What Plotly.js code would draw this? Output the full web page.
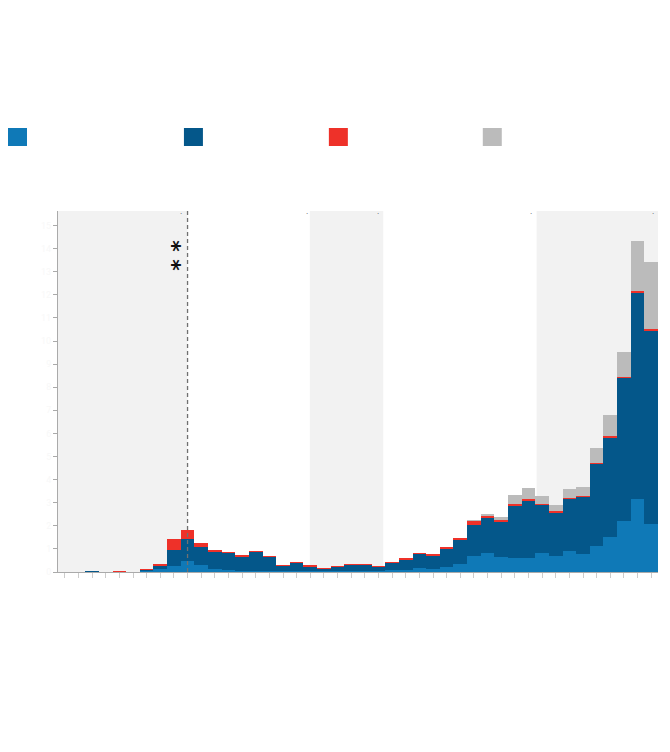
<!DOCTYPE html>
<html>
<head>
<meta charset="utf-8">
<script src="https://cdn.plot.ly/plotly-3.0.1.min.js"></script>
<style>html,body{margin:0;padding:0;background:#fff;}#chart{width:670px;height:752px;}</style>
</head>
<body>
<div id="chart"></div>
<script>
// ---- data (weekly bins, index 0..43) ----
const weekIndex = [0,1,2,3,4,5,6,7,8,9,10,11,12,13,14,15,16,17,18,19,20,21,22,23,24,25,26,27,28,29,30,31,32,33,34,35,36,37,38,39,40,41,42,43];
const seriesNames = ["Series 1", "Series 2", "Series 3", "Series 4"];
const lightBlue = [0,0,0.02,0,0,0,0.04,0.15,0.28,0.46,0.29,0.15,0.07,0.04,0.05,0.05,0.04,0.05,0.04,0.03,0.04,0.05,0.06,0.06,0.08,0.10,0.17,0.13,0.23,0.36,0.71,0.82,0.65,0.62,0.62,0.82,0.71,0.90,0.80,1.11,1.52,2.21,3.18,2.10];
const darkBlue  = [0,0,0.03,0,0,0,0.06,0.10,0.69,0.97,0.79,0.72,0.75,0.61,0.80,0.59,0.22,0.34,0.19,0.11,0.19,0.24,0.25,0.17,0.30,0.44,0.59,0.58,0.76,1.01,1.33,1.50,1.53,2.25,2.44,2.07,1.86,2.25,2.43,3.55,4.29,6.17,8.89,8.32];
const red       = [0,0,0,0,0.04,0,0.03,0.11,0.45,0.38,0.17,0.10,0.05,0.07,0.04,0.04,0.03,0.04,0.06,0.03,0.03,0.04,0.04,0.03,0.04,0.05,0.06,0.06,0.09,0.09,0.15,0.09,0.07,0.09,0.09,0.07,0.06,0.07,0.07,0.07,0.07,0.07,0.10,0.09];
const gray      = [0,0,0,0,0,0,0,0,0,0,0,0,0,0,0,0,0,0,0,0,0,0,0,0,0,0,0,0,0,0,0.06,0.09,0.12,0.39,0.49,0.33,0.26,0.36,0.39,0.65,0.91,1.08,2.18,2.93];
const yTicks = [0,1,2,3,4,5,6,7,8,9,10,11,12,13,14,15];
// shaded periods (in week-index units) and the marked week
const shadedPeriods = [[-0.5, 9], [17.97, 23.35], [34.6, 43.5]];
const markedWeek = 9;
const periodEnds = [8.5, 17.73, 22.98, 34.16, 43.15];

const colors = ["#0f79b7", "#04578a", "#ee3129", "#bbbbbb"];
const values = [lightBlue, darkBlue, red, gray];

const traces = values.map((v, i) => ({
  type: "bar", x: weekIndex, y: v, name: seriesNames[i],
  marker: {color: colors[i], line: {width: 0}},
  showlegend: false, hoverinfo: "y"
}));

// layout geometry
const W = 670, H = 752, L = 58, R = 11.7, T = 211, B = 180;
const pw = W - L - R, ph = H - T - B;
const px2paperX = p => (p - L) / pw;
const py2paperY = p => (H - B - p) / ph;

const shapes = [];
shadedPeriods.forEach(r => shapes.push({
  type: "rect", xref: "x", yref: "paper", x0: r[0], x1: r[1], y0: 0, y1: 1,
  fillcolor: "#f2f2f2", line: {width: 0}, layer: "below"
}));
shapes.push({type: "line", xref: "x", yref: "paper", x0: markedWeek, x1: markedWeek, y0: 0, y1: 1,
  line: {color: "#707070", width: 1.3, dash: "4px,3px"}});

// legend squares
const legendX = [8, 184, 329, 483];
const annotations = [];
legendX.forEach((lx, i) => {
  shapes.push({type: "rect", xref: "paper", yref: "paper",
    x0: px2paperX(lx), x1: px2paperX(lx + 19), y0: py2paperY(146), y1: py2paperY(128),
    fillcolor: colors[i], line: {width: 0}});
  annotations.push({xref: "paper", yref: "paper", x: px2paperX(lx + 26), y: py2paperY(137),
    xanchor: "left", yanchor: "middle", showarrow: false, text: seriesNames[i],
    font: {family: "Roboto, sans-serif", size: 13, color: "#ffffff"}});
});

annotations.push({x: 8.45, y: 13.69, xref: "x", yref: "y", text: "<b>* *</b>", textangle: -90,
  showarrow: false, font: {family: "DejaVu Sans", size: 22, color: "#111"}});

periodEnds.forEach(pe => annotations.push({x: pe, y: py2paperY(212), xref: "x", yref: "paper",
  text: ".", showarrow: false, xanchor: "center", yanchor: "middle",
  font: {family: "DejaVu Sans", size: 7, color: "#555"}}));

const layout = {
  width: W, height: H,
  margin: {l: L, r: R, t: T, b: B, pad: 0},
  paper_bgcolor: "#ffffff", plot_bgcolor: "#ffffff",
  barmode: "stack", bargap: 0,
  showlegend: false,
  xaxis: {range: [-0.5, 43.5], tickvals: weekIndex, showticklabels: false,
    ticks: "outside", ticklen: 5, tickcolor: "#cccccc", tickwidth: 1,
    showgrid: false, zeroline: false, showline: true, linecolor: "#aaaaaa", linewidth: 1, fixedrange: true},
  yaxis: {range: [0, 15.63], tickvals: yTicks, ticks: "outside", ticklen: 4, tickcolor: "#aaaaaa",
    tickfont: {family: "Roboto, sans-serif", size: 9, color: "#f8f8f8"},
    showgrid: false, zeroline: false, showline: true, linecolor: "#aaaaaa", linewidth: 1, fixedrange: true},
  shapes: shapes, annotations: annotations
};

Plotly.newPlot("chart", traces, layout, {displayModeBar: false, staticPlot: true});
</script>
</body>
</html>
